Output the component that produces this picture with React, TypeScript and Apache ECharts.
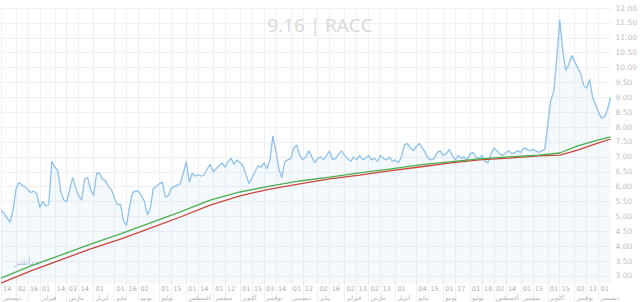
import React, { useEffect, useRef } from "react";
import * as echarts from "echarts";

// Price samples (roughly every 2-3 trading days)
const PRICE: number[] = [
  5.2, 5.1, 4.95, 4.8, 5.2, 5.9, 6.15, 6.05, 6.0, 5.9,
  5.8, 5.85, 5.75, 5.3, 5.5, 5.35, 5.4, 6.85, 6.65, 6.55,
  5.85, 5.55, 5.5, 5.9, 6.3, 5.95, 5.7, 5.55, 6.25, 6.3,
  5.9, 5.7, 6.45, 6.45, 6.25, 6.2, 6.0, 5.9, 5.6, 5.4,
  5.4, 4.85, 4.7, 5.3, 5.8, 5.85, 5.85, 5.7, 5.5, 5.05,
  5.3, 5.95, 6.0, 6.1, 6.15, 5.65, 5.7, 5.95, 6.0, 6.05,
  6.1, 6.45, 6.85, 6.15, 6.45, 6.35, 6.4, 6.35, 6.4, 6.6,
  6.75, 6.5, 6.6, 6.7, 6.8, 6.65, 6.85, 6.95, 6.75, 6.9,
  6.8, 6.7, 6.4, 6.1, 6.3, 6.5, 6.7, 6.65, 6.8, 6.6,
  6.9, 7.7, 7.2, 6.6, 6.3, 6.85, 6.9, 6.95, 7.3, 7.4,
  7.05, 6.9, 7.0, 7.2, 7.0, 6.8, 6.95, 7.0, 6.9, 7.05,
  7.2, 6.9, 6.95, 7.1, 7.2, 7.05, 6.95, 6.85, 7.0, 6.9,
  7.05, 6.9, 6.95, 7.05, 6.9, 6.95, 6.85, 7.05, 6.95, 6.9,
  7.0, 6.85, 6.9, 6.8, 7.0, 7.4, 7.45, 7.3, 7.2, 7.35,
  7.45, 7.3, 7.15, 6.95, 6.9, 6.95, 7.15, 7.2, 7.05, 7.1,
  7.25, 7.05, 6.9, 7.05, 6.95, 7.0, 6.9, 7.1, 7.15, 7.0,
  6.95, 7.05, 6.85, 6.8, 7.1, 7.3, 7.2, 7.1, 7.05, 7.15,
  7.2, 7.1, 7.15, 7.2, 7.15, 7.3, 7.25, 7.2, 7.25, 7.2,
  7.15, 7.2, 7.25, 8.1, 8.9, 9.2, 10.3, 11.6, 10.6, 9.9,
  10.1, 10.4, 10.2, 10.0, 9.8, 9.4, 9.3, 9.6, 9.0, 8.75,
  8.5, 8.3, 8.35, 8.6, 9.0,
];

// Moving averages: [sample index, value]
const MA_GREEN: [number, number][] = [
  [0, 2.93], [10, 3.34], [20, 3.7], [30, 4.07], [40, 4.41], [50, 4.78],
  [60, 5.15], [70, 5.55], [80, 5.82], [90, 6.02], [100, 6.19], [110, 6.32],
  [120, 6.46], [130, 6.59], [140, 6.73], [150, 6.83], [160, 6.93], [170, 7.0],
  [180, 7.06], [187, 7.13], [193, 7.37], [200, 7.57], [204, 7.67],
];
const MA_RED: [number, number][] = [
  [0, 2.76], [10, 3.17], [20, 3.54], [30, 3.91], [40, 4.24], [50, 4.61],
  [60, 4.98], [70, 5.38], [80, 5.69], [90, 5.92], [100, 6.09], [110, 6.26],
  [120, 6.39], [130, 6.53], [140, 6.66], [150, 6.79], [160, 6.9], [170, 6.96],
  [180, 7.03], [187, 7.06], [193, 7.23], [200, 7.47], [204, 7.6],
];

// X tick labels: [sample index, day, month]
const X_TICKS: [number, string, string][] = [
  [0, "14", "ديسمبر"], [5, "02", ""], [9, "16", ""], [13, "01", "فبراير"],
  [18, "14", ""], [22, "03", "مارس"], [26, "14", ""], [31, "01", "أبريل"],
  [38, "01", "مايو"], [42, "16", ""], [46, "02", "يونيو"], [53, "01", "يوليو"],
  [57, "15", ""], [62, "01", "أغسطس"], [66, "14", ""], [71, "01", "سبتمبر"],
  [75, "12", ""], [80, "01", "أكتوبر"], [84, "15", ""], [88, "03", "نوفمبر"],
  [92, "14", ""], [97, "01", "ديسمبر"], [101, "12", ""], [106, "02", "يناير"],
  [110, "16", ""], [115, "02", "فبراير"], [119, "13", ""], [123, "02", "مارس"],
  [127, "13", ""], [132, "01", "أبريل"], [139, "04", "مايو"], [143, "15", ""],
  [148, "01", "يونيو"], [152, "17", ""], [157, "01", "يوليو"], [161, "18", ""],
  [165, "02", "أغسطس"], [169, "14", ""], [174, "01", "سبتمبر"], [178, "15", ""],
  [183, "01", "أكتوبر"], [187, "15", ""], [192, "02", "نوفمبر"], [196, "13", ""],
  [200, "01", "ديسمبر"],
];

const Y_TICKS: number[] = [
  3, 3.5, 4, 4.5, 5, 5.5, 6, 6.5, 7, 7.5, 8, 8.5, 9, 9.5, 10, 10.5, 11, 11.5, 12,
];

const TITLE = "9.16 | RACC";

export default function App() {
  const ref = useRef<HTMLDivElement>(null);

  useEffect(() => {
    if (!ref.current) return;
    const chart = echarts.init(ref.current, undefined, { renderer: "svg" });

    const dayMap = new Map<number, string>();
    const monthMap = new Map<number, string>();
    X_TICKS.forEach(([i, d, m]) => {
      dayMap.set(i, d);
      if (m) monthMap.set(i, m);
    });
    const dayCats = PRICE.map((_, i) => dayMap.get(i) ?? "");
    const monthCats = PRICE.map((_, i) => monthMap.get(i) ?? "");
    const isTick = (idx: number) => dayMap.has(idx);
    const isMonth = (idx: number) => monthMap.has(idx);
    const gridColor = "#eef0f3";
    const labelBase = {
      showMinLabel: true,
      showMaxLabel: true,
      hideOverlap: false,
      align: "left",
      padding: [0, 0, 0, 2],
      color: "#b0b0b0",
      fontFamily: "DejaVu Sans",
    };

    chart.setOption({
      animation: false,
      backgroundColor: "#ffffff",
      title: {
        text: TITLE,
        left: "center",
        top: 10,
        textStyle: {
          color: "#d8d8d8",
          fontSize: 19,
          fontWeight: "normal",
          fontFamily: "Open Sans",
        },
      },
      grid: { left: 0, right: 28, top: 8, bottom: 18.6, containLabel: false },
      xAxis: [
        {
          type: "category",
          data: dayCats,
          boundaryGap: false,
          axisLine: { show: false },
          axisTick: {
            show: true,
            interval: (i: number) => isTick(i),
            length: 19,
            lineStyle: { color: gridColor },
          },
          splitLine: {
            show: true,
            interval: (i: number) => isTick(i),
            lineStyle: { color: gridColor, width: 1 },
          },
          axisLabel: {
            ...labelBase,
            interval: (i: number) => isTick(i),
            margin: 2,
            fontSize: 6.5,
          },
        },
        {
          type: "category",
          data: monthCats,
          boundaryGap: false,
          position: "bottom",
          offset: 9,
          axisLine: { show: false },
          axisTick: { show: false },
          splitLine: { show: false },
          axisLabel: {
            ...labelBase,
            interval: (i: number) => isMonth(i),
            margin: 2,
            fontSize: 6,
          },
        },
      ],
      yAxis: {
        type: "value",
        position: "right",
        min: 2.75,
        max: 12,
        interval: 0.25,
        axisLine: { show: false },
        axisTick: { show: false },
        splitLine: { show: false },
        axisLabel: {
          margin: 5,
          color: "#c0c0c0",
          fontSize: 7.5,
          fontFamily: "DejaVu Sans",
          formatter: (v: number) =>
            Y_TICKS.some((t) => Math.abs(t - v) < 1e-6) ? v.toFixed(2) : "",
        },
      },
      series: [
        {
          type: "line",
          data: PRICE,
          symbol: "none",
          lineStyle: { color: "#8ec2ea", width: 1.3 },
          areaStyle: { color: "rgba(135,190,235,0.13)", origin: "start" },
          z: 3,
          markLine: {
            silent: true,
            symbol: "none",
            label: { show: false },
            lineStyle: { color: gridColor, width: 1, type: "solid" },
            data: Y_TICKS.map((v) => ({ yAxis: v })),
            z: 1,
          },
        },
        {
          type: "line",
          data: MA_RED,
          symbol: "none",
          lineStyle: { color: "#c9453a", width: 1.3 },
          z: 4,
        },
        {
          type: "line",
          data: MA_GREEN,
          symbol: "none",
          lineStyle: { color: "#4cae4c", width: 1.3 },
          z: 5,
        },
      ],
      graphic: [
        {
          type: "text",
          left: 14,
          top: 256,
          style: {
            text: "مباشر",
            fill: "rgba(90,130,190,0.45)",
            fontSize: 10,
            fontFamily: "DejaVu Sans",
          },
        },
      ],
    });

    return () => chart.dispose();
  }, []);

  return (
    <div
      ref={ref}
      style={{ position: "fixed", left: 0, top: 0, width: 640, height: 302 }}
    />
  );
}
